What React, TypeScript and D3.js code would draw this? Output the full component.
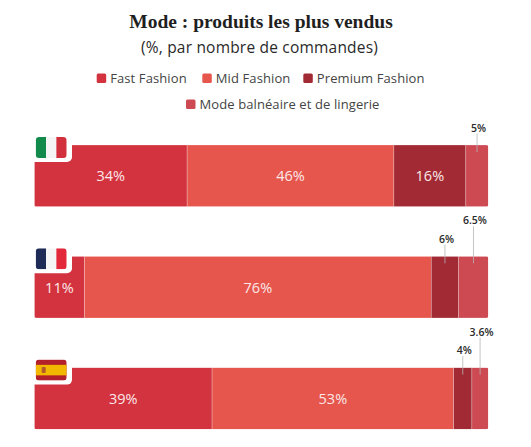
import React from "react";
import * as d3 from "d3";

const countries = ["Italie", "France", "Espagne"];
const categories = ["Fast Fashion", "Mid Fashion", "Premium Fashion", "Mode balnéaire et de lingerie"];
const fastFashion = [34, 11, 39];
const midFashion = [46, 76, 53];
const premiumFashion = [16, 6, 4];
const swimLingerie = [5, 6.5, 3.6];
const colors = ["#d3333f", "#e6564d", "#a22a34", "#cd4a53"];

const W = 531;
const H = 447;
const barLeft = 34.3;
const barRight = 488.3;

const rows = countries.map((c, i) => ({
  country: c,
  "Fast Fashion": fastFashion[i],
  "Mid Fashion": midFashion[i],
  "Premium Fashion": premiumFashion[i],
  "Mode balnéaire et de lingerie": swimLingerie[i],
}));

const stacked = d3.stack<any>().keys(categories)(rows);

const bh = 61.7;
const yBand = d3.scaleBand<string>().domain(countries).range([145, 429.3 + (429.3 - 145 - 3 * bh) / 2]).paddingInner(0);

const fmt = (v: number) => `${v}%`;

function Flag({ country, x, yTop }: { country: string; x: number; yTop: number }) {
  const w = 31;
  const h = 21;
  const id = `flag-${country}`;
  let stripes: React.ReactNode = null;
  if (country === "Italie") {
    stripes = (
      <>
        <rect x={x} y={yTop} width={w / 3} height={h} fill="#118a4c" />
        <rect x={x + w / 3} y={yTop} width={w / 3} height={h} fill="#f5f5f5" />
        <rect x={x + (2 * w) / 3} y={yTop} width={w / 3} height={h} fill="#d2303c" />
      </>
    );
  } else if (country === "France") {
    stripes = (
      <>
        <rect x={x} y={yTop} width={w / 3} height={h} fill="#1e2b57" />
        <rect x={x + w / 3} y={yTop} width={w / 3} height={h} fill="#f5f5f5" />
        <rect x={x + (2 * w) / 3} y={yTop} width={w / 3} height={h} fill="#e2283a" />
      </>
    );
  } else {
    stripes = (
      <>
        <rect x={x} y={yTop} width={w} height={h} fill="#b3202a" />
        <rect x={x} y={yTop + h / 4} width={w} height={h / 2} fill="#f2b800" />
        <rect x={x + 6} y={yTop + h / 2 - 3} width={4} height={6} rx={1} fill="#b45a2a" />
      </>
    );
  }
  return (
    <g>
      <clipPath id={id}>
        <rect x={x} y={yTop} width={w} height={h} rx={3.5} />
      </clipPath>
      <g clipPath={`url(#${id})`}>{stripes}</g>
    </g>
  );
}

export default function App() {
  const legendItems = [
    { i: 0, x: 96.7, y: 73.5 },
    { i: 1, x: 202.3, y: 73.5 },
    { i: 2, x: 303.3, y: 73.5 },
    { i: 3, x: 186, y: 99.5 },
  ];
  return (
    <div>
      <style>{`body{margin:0}`}</style>
      <svg width={W} height={H} style={{ display: "block", background: "#fff" }}>
        <text x={261} y={28} textAnchor="middle" fontFamily="'Liberation Serif', serif" fontWeight="bold" fontSize={19.5} fill="#1f1f1f">
          Mode : produits les plus vendus
        </text>
        <text x={259.5} y={53} textAnchor="middle" fontFamily="'Open Sans', sans-serif" fontSize={15.5} letterSpacing={0.2} fill="#2a2a2a">
          (%, par nombre de commandes)
        </text>
        {legendItems.map((l) => (
          <g key={l.i}>
            <rect x={l.x} y={l.y} width={9.5} height={9.5} rx={1.5} fill={colors[l.i]} />
            <text x={l.x + 13.5} y={l.y + 9.5} fontFamily="'Open Sans', sans-serif" fontSize={13} letterSpacing={0.1} fill="#444">
              {categories[l.i]}
            </text>
          </g>
        ))}
        {rows.map((r, ri) => {
          const top = yBand(r.country)!;
          const total = d3.sum(categories, (k) => (r as any)[k] as number);
          const x = d3.scaleLinear().domain([0, total]).range([barLeft, barRight]);
          const clipId = `bar-${ri}`;
          let prevOutside = false;
          return (
            <g key={r.country}>
              <clipPath id={clipId}>
                <rect x={barLeft} y={top} width={barRight - barLeft} height={bh} rx={2} />
              </clipPath>
              <g clipPath={`url(#${clipId})`}>
                {stacked.map((s, si) => {
                  const d = s[ri];
                  return (
                    <rect
                      key={si}
                      x={x(d[0])}
                      y={top}
                      width={x(d[1]) - x(d[0])}
                      height={bh}
                      fill={colors[si]}
                      stroke="#fff"
                      strokeOpacity={0.4}
                      strokeWidth={0.6}
                    />
                  );
                })}
              </g>
              {stacked.map((s, si) => {
                const d = s[ri];
                const v = d[1] - d[0];
                const cx = (x(d[0]) + x(d[1])) / 2;
                const val = (r as any)[categories[si]] as number;
                if (v >= 7) {
                  prevOutside = false;
                  return (
                    <text key={si} x={cx} y={top + bh / 2 + 5.5} textAnchor="middle" fontFamily="'Open Sans', sans-serif" fontSize={14.5} fontWeight={500} fill="#fbe8e8">
                      {fmt(val)}
                    </text>
                  );
                }
                const level = prevOutside ? 2 : 1;
                prevOutside = true;
                const ly = level === 1 ? top - 17.5 : top - 36;
                return (
                  <g key={si}>
                    <line x1={cx} x2={cx} y1={ly + 6} y2={top + 7} stroke="#b5b5b5" strokeWidth={0.8} />
                    <text x={cx + 1.5} y={ly + 4} textAnchor="middle" fontFamily="'Open Sans', sans-serif" fontSize={10.5} fontWeight={600} fill="#2a2a2a">
                      {fmt(val)}
                    </text>
                  </g>
                );
              })}
              <rect x={28} y={top - 12} width={44} height={29} rx={5} fill="#fff" />
              <Flag country={r.country} x={35.7} yTop={top - 8} />
            </g>
          );
        })}
      </svg>
    </div>
  );
}
